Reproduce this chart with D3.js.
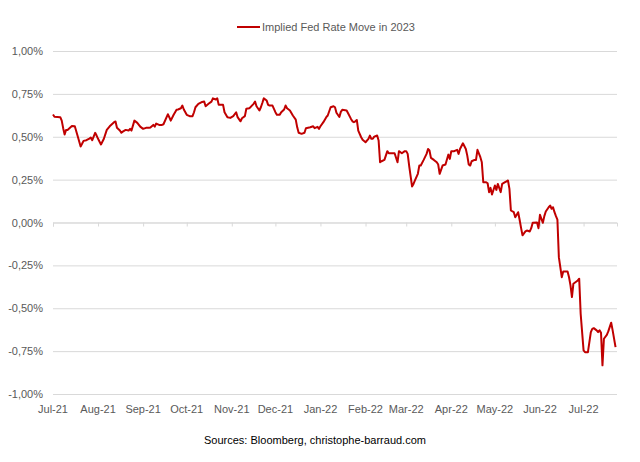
<!DOCTYPE html>
<html>
<head>
<meta charset="utf-8">
<script src="https://cdn.jsdelivr.net/npm/d3@7"></script>
<style>
	body { margin: 0; background: #ffffff; }
	text { font-family: "Liberation Sans", Arial, sans-serif; }
</style>
</head>
<body>
<div id="chart"></div>
<script>

// Series: implied Fed rate move in 2023 (in %)
var dates = [
	"2021-07-01","2021-07-02","2021-07-06","2021-07-07","2021-07-08","2021-07-09","2021-07-10","2021-07-11",
	"2021-07-14","2021-07-16","2021-07-18","2021-07-20","2021-07-21","2021-07-22","2021-07-24","2021-07-26",
	"2021-07-27","2021-07-28","2021-07-30","2021-07-31","2021-08-01","2021-08-03","2021-08-05","2021-08-07",
	"2021-08-09","2021-08-12","2021-08-13","2021-08-14","2021-08-16","2021-08-17","2021-08-18","2021-08-20",
	"2021-08-22","2021-08-23","2021-08-24","2021-08-26","2021-08-28","2021-08-30","2021-09-01","2021-09-03",
	"2021-09-05","2021-09-06","2021-09-08","2021-09-09","2021-09-10","2021-09-12","2021-09-14","2021-09-15",
	"2021-09-18","2021-09-19","2021-09-20","2021-09-22","2021-09-24","2021-09-25","2021-09-27","2021-09-28",
	"2021-09-29","2021-10-01","2021-10-03","2021-10-05","2021-10-06","2021-10-07","2021-10-09","2021-10-11",
	"2021-10-13","2021-10-14","2021-10-16","2021-10-18","2021-10-19","2021-10-21","2021-10-22","2021-10-23",
	"2021-10-26","2021-10-27","2021-10-29","2021-10-31","2021-11-02","2021-11-04","2021-11-05","2021-11-07",
	"2021-11-08","2021-11-10","2021-11-11","2021-11-13","2021-11-14","2021-11-16","2021-11-17","2021-11-18",
	"2021-11-20","2021-11-21","2021-11-22","2021-11-23","2021-11-25","2021-11-26","2021-11-27","2021-11-29",
	"2021-12-01","2021-12-02","2021-12-04","2021-12-05","2021-12-07","2021-12-08","2021-12-09","2021-12-11",
	"2021-12-13","2021-12-15","2021-12-16","2021-12-17","2021-12-19","2021-12-21","2021-12-22","2021-12-25",
	"2021-12-27","2021-12-28","2021-12-30","2021-12-31","2022-01-01","2022-01-03","2022-01-05","2022-01-06",
	"2022-01-08","2022-01-10","2022-01-11","2022-01-12","2022-01-14","2022-01-15","2022-01-16","2022-01-19",
	"2022-01-20","2022-01-22","2022-01-23","2022-01-24","2022-01-25","2022-01-26","2022-01-27","2022-01-29",
	"2022-01-30","2022-02-01","2022-02-03","2022-02-04","2022-02-05","2022-02-06","2022-02-07","2022-02-09",
	"2022-02-10","2022-02-11","2022-02-12","2022-02-14","2022-02-16","2022-02-17","2022-02-18","2022-02-21",
	"2022-02-23","2022-02-24","2022-02-26","2022-02-28","2022-03-01","2022-03-02","2022-03-03","2022-03-05",
	"2022-03-06","2022-03-07","2022-03-09","2022-03-10","2022-03-11","2022-03-13","2022-03-15","2022-03-16",
	"2022-03-17","2022-03-18","2022-03-20","2022-03-22","2022-03-23","2022-03-24","2022-03-26","2022-03-28",
	"2022-03-30","2022-03-31","2022-04-01","2022-04-03","2022-04-05","2022-04-06","2022-04-07","2022-04-09",
	"2022-04-11","2022-04-12","2022-04-13","2022-04-14","2022-04-15","2022-04-17","2022-04-18","2022-04-19",
	"2022-04-21","2022-04-22","2022-04-23","2022-04-25","2022-04-26","2022-04-27","2022-04-28","2022-04-29",
	"2022-05-01","2022-05-02","2022-05-03","2022-05-05","2022-05-06","2022-05-08","2022-05-09","2022-05-10",
	"2022-05-11","2022-05-12","2022-05-14","2022-05-15","2022-05-17","2022-05-18","2022-05-19","2022-05-20",
	"2022-05-22","2022-05-23","2022-05-25","2022-05-26","2022-05-27","2022-05-30","2022-05-31","2022-06-01",
	"2022-06-03","2022-06-04","2022-06-05","2022-06-07","2022-06-08","2022-06-09","2022-06-10","2022-06-11",
	"2022-06-12","2022-06-13","2022-06-14","2022-06-16","2022-06-17","2022-06-20","2022-06-21","2022-06-22",
	"2022-06-23","2022-06-24","2022-06-27","2022-06-28","2022-06-29","2022-07-01","2022-07-02","2022-07-04",
	"2022-07-06","2022-07-07","2022-07-08","2022-07-10","2022-07-11","2022-07-12","2022-07-13","2022-07-14",
	"2022-07-15","2022-07-17","2022-07-18","2022-07-20","2022-07-21","2022-07-23"
];

var rateMove = [
	0.630,0.617,0.614,0.594,0.550,0.513,0.540,0.540,
	0.563,0.561,0.503,0.443,0.459,0.476,0.480,0.489,
	0.495,0.480,0.523,0.507,0.488,0.455,0.488,0.540,
	0.561,0.585,0.589,0.552,0.536,0.523,0.530,0.540,
	0.536,0.546,0.536,0.594,0.581,0.559,0.546,0.552,
	0.552,0.554,0.569,0.559,0.577,0.569,0.569,0.573,
	0.631,0.614,0.594,0.628,0.657,0.659,0.666,0.682,
	0.659,0.628,0.620,0.620,0.643,0.672,0.692,0.701,
	0.705,0.678,0.692,0.705,0.724,0.717,0.724,0.686,
	0.686,0.643,0.614,0.610,0.620,0.643,0.614,0.590,
	0.608,0.620,0.663,0.666,0.674,0.692,0.705,0.678,
	0.653,0.672,0.697,0.724,0.711,0.686,0.682,0.682,
	0.643,0.628,0.629,0.643,0.659,0.682,0.666,0.653,
	0.624,0.600,0.555,0.523,0.517,0.523,0.550,0.555,
	0.561,0.550,0.558,0.546,0.561,0.585,0.614,0.624,
	0.672,0.678,0.672,0.640,0.615,0.645,0.657,0.653,
	0.637,0.604,0.590,0.585,0.590,0.598,0.536,0.497,
	0.482,0.468,0.488,0.507,0.488,0.488,0.501,0.507,
	0.478,0.351,0.357,0.365,0.416,0.404,0.404,0.404,
	0.351,0.416,0.404,0.416,0.416,0.400,0.332,0.210,
	0.225,0.245,0.284,0.332,0.332,0.365,0.400,0.429,
	0.420,0.377,0.365,0.351,0.338,0.284,0.332,0.338,
	0.396,0.371,0.416,0.416,0.424,0.400,0.429,0.462,
	0.429,0.390,0.338,0.332,0.357,0.365,0.365,0.424,
	0.381,0.351,0.235,0.235,0.229,0.177,0.202,0.163,
	0.216,0.190,0.225,0.177,0.225,0.235,0.240,0.245,
	0.196,0.070,0.060,0.031,0.060,0.016,-0.031,-0.075,
	-0.052,-0.047,-0.052,-0.033,-0.002,0.000,-0.033,0.045,
	-0.002,0.037,0.064,0.089,0.099,0.080,0.089,0.060,
	0.037,0.017,-0.202,-0.319,-0.286,-0.286,-0.319,-0.367,
	-0.435,-0.357,-0.338,-0.328,-0.532,-0.746,-0.756,-0.756,
	-0.639,-0.620,-0.616,-0.629,-0.639,-0.629,-0.643,-0.833,
	-0.678,-0.655,-0.635,-0.584,-0.629,-0.727
];

var yTicks = [-1, -0.75, -0.5, -0.25, 0, 0.25, 0.5, 0.75, 1];
var xStart = "2021-07-01";
var xEnd = "2022-07-24";
var seriesName = "Implied Fed Rate Move in 2023";
var sourceText = "Sources: Bloomberg, christophe-barraud.com";


// canvas sizes
var width = 640, height = 462;
var plot = {left: 53, right: 617, top: 51, bottom: 394};

var parseDate = d3.timeParse("%Y-%m-%d");
var data = dates.map(function(d, i) { return {date: parseDate(d), value: rateMove[i]}; });

// european number format: 0,25%
var locale = d3.formatLocale({decimal: ",", thousands: ".", grouping: [3], currency: ["", "€"], minus: "-"});
var fmt = locale.format(".2f");

var svg = d3.select("#chart").append("svg")
	.attr("width", width)
	.attr("height", height);

svg.append("rect")
	.attr("width", width)
	.attr("height", height)
	.style("fill", "#ffffff");

// scales
var xScale = d3.scaleTime()
	.domain([parseDate(xStart), parseDate(xEnd)])
	.range([plot.left, plot.right]);

var yScale = d3.scaleLinear()
	.domain([-1, 1])
	.range([plot.bottom, plot.top]);

// horizontal gridlines + y labels
var yAxis = d3.axisLeft(yScale)
	.tickValues(yTicks)
	.tickSize(-(plot.right - plot.left))
	.tickPadding(10)
	.tickFormat(function(d) { return fmt(d) + "%"; });

svg.append("g")
	.attr("class", "y axis")
	.attr("transform", "translate(" + plot.left + ",0)")
	.call(yAxis)
	.call(function(g) {
		g.select(".domain").remove();
		g.selectAll(".tick line").style("stroke", "#d9d9d9");
		g.selectAll(".tick text")
			.style("fill", "#595959")
			.style("font-size", "11px");
	});

// x axis sits on the zero line, ticks only
var monthTicks = d3.timeMonth.range(parseDate(xStart), parseDate(xEnd));

var xAxis = d3.axisBottom(xScale)
	.tickValues(monthTicks)
	.tickSize(4)
	.tickFormat("");

svg.append("g")
	.attr("class", "x axis")
	.attr("transform", "translate(0," + yScale(0) + ")")
	.call(xAxis)
	.call(function(g) {
		g.select(".domain").style("stroke", "#d9d9d9");
		g.selectAll(".tick line").style("stroke", "#d9d9d9");
	});

// month labels at the bottom (label position low)
svg.append("g")
	.attr("class", "x labels")
	.selectAll("text")
	.data(monthTicks)
	.enter().append("text")
	.attr("x", function(d) { return xScale(d); })
	.attr("y", plot.bottom + 19)
	.style("text-anchor", "middle")
	.style("font-size", "11px")
	.style("fill", "#595959")
	.text(d3.timeFormat("%b-%y"));

// the series line
var line = d3.line()
	.x(function(d) { return xScale(d.date); })
	.y(function(d) { return yScale(d.value); });

svg.append("path")
	.datum(data)
	.attr("d", line)
	.style("fill", "none")
	.style("stroke", "#c00000")
	.style("stroke-width", 2)
	.style("stroke-linejoin", "round");

// legend
var legend = svg.append("g").attr("class", "legend");

legend.append("line")
	.attr("x1", 237)
	.attr("x2", 260)
	.attr("y1", 27)
	.attr("y2", 27)
	.style("stroke", "#c00000")
	.style("stroke-width", 2);

legend.append("text")
	.attr("x", 262)
	.attr("y", 31)
	.style("font-size", "11px")
	.style("fill", "#595959")
	.text(seriesName);

// source line
svg.append("text")
	.attr("x", 315)
	.attr("y", 444)
	.style("text-anchor", "middle")
	.style("font-size", "11px")
	.style("fill", "#000000")
	.text(sourceText);

</script>
</body>
</html>
